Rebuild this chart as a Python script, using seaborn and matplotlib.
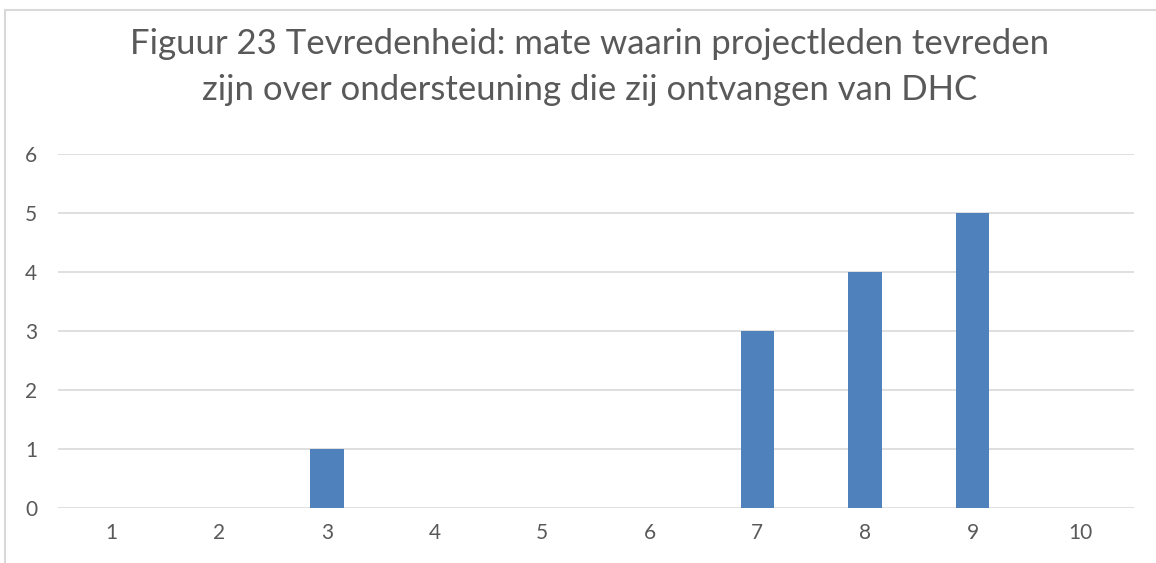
import matplotlib
matplotlib.use("Agg")
import matplotlib.pyplot as plt
import seaborn as sns
import pandas as pd
from matplotlib.patches import Rectangle

categories = ["1", "2", "3", "4", "5", "6", "7", "8", "9", "10"]
values = [0, 0, 1, 0, 0, 0, 3, 4, 5, 0]
title = "Figuur 23 Tevredenheid: mate waarin projectleden tevreden\nzijn over ondersteuning die zij ontvangen van DHC"

sns.set_theme(style="white")
plt.rcParams['font.family'] = ['Lato', 'DejaVu Sans']

df = pd.DataFrame({"cat": categories, "val": values})

fig = plt.figure(figsize=(11.56, 5.63), dpi=100)
ax = fig.add_axes([58/1156, 1-508/563, (1134-58)/1156, (508-154)/563])
sns.barplot(data=df, x="cat", y="val", order=categories, color="#4f81bd",
            saturation=1, width=0.31, linewidth=0, ax=ax)
ax.set_ylim(0, 6)
ax.set_xlim(-0.5, 9.5)
ax.set_yticks(range(0, 7))
ax.grid(axis="y", color="#d9d9d9", linewidth=1.2)
ax.set_axisbelow(True)
for s in ax.spines.values():
    s.set_visible(False)
ax.set_xlabel("")
ax.set_ylabel("")
ax.tick_params(axis="both", length=0, labelsize=15, colors="#595959")
ax.tick_params(axis="y", pad=15)
ax.tick_params(axis="x", pad=11)

fig.text(590/1156, 1-67/563, title, ha="center", va="center", fontsize=25,
         color="#595959", linespacing=1.5)

fig.patches.append(Rectangle((5/1156, -0.1), 1.2, 1-10/563+0.1, transform=fig.transFigure,
                             fill=False, edgecolor="#d9d9d9", linewidth=1.5))

fig.savefig("out.png", dpi=100)
